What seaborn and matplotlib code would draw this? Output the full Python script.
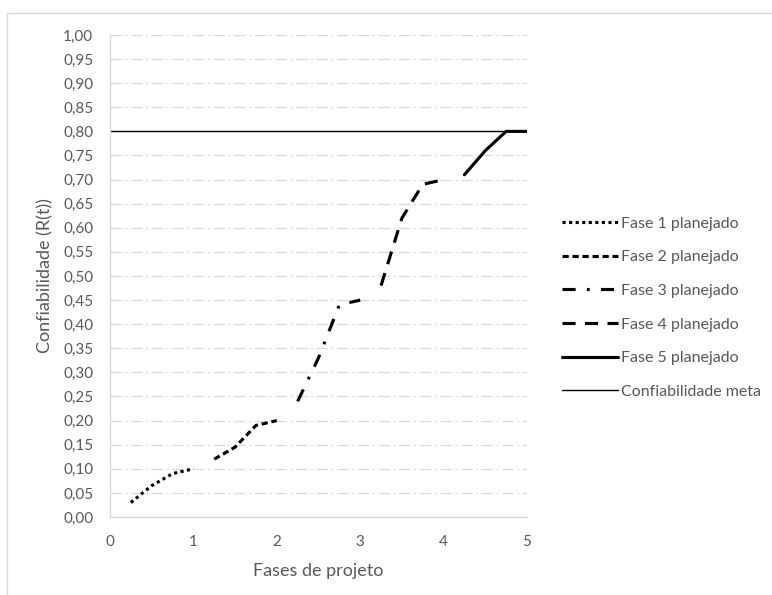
import pandas as pd
import seaborn as sns
import matplotlib
import matplotlib.pyplot as plt
from matplotlib.patches import Rectangle
from matplotlib.lines import Line2D
from matplotlib.ticker import FuncFormatter, MultipleLocator

matplotlib.use("Agg")

# valores
fase1_x = [0.25, 0.5, 0.75, 1.0]
fase1_y = [0.03, 0.065, 0.09, 0.10]
fase2_x = [1.25, 1.5, 1.75, 2.0]
fase2_y = [0.12, 0.145, 0.19, 0.20]
fase3_x = [2.25, 2.5, 2.75, 3.0]
fase3_y = [0.24, 0.33, 0.44, 0.45]
fase4_x = [3.25, 3.5, 3.75, 4.0]
fase4_y = [0.48, 0.62, 0.69, 0.70]
fase5_x = [4.25, 4.5, 4.75, 5.0]
fase5_y = [0.71, 0.76, 0.80, 0.80]
meta_x = [0, 5]
meta_y = [0.80, 0.80]

nomes = ["Fase 1 planejado", "Fase 2 planejado", "Fase 3 planejado",
         "Fase 4 planejado", "Fase 5 planejado"]

df = pd.concat([
    pd.DataFrame({"x": fase1_x, "y": fase1_y, "serie": nomes[0]}),
    pd.DataFrame({"x": fase2_x, "y": fase2_y, "serie": nomes[1]}),
    pd.DataFrame({"x": fase3_x, "y": fase3_y, "serie": nomes[2]}),
    pd.DataFrame({"x": fase4_x, "y": fase4_y, "serie": nomes[3]}),
    pd.DataFrame({"x": fase5_x, "y": fase5_y, "serie": nomes[4]}),
])

sns.set_style("white")
plt.rcParams['font.family'] = ['Lato', 'DejaVu Sans']

fig = plt.figure(figsize=(7.72, 5.95), dpi=100)
ax = fig.add_axes([0.1425, 0.1311, 0.5401, 0.8101])

estilos = {
    nomes[0]: (1, 1.1),
    nomes[1]: (2.0, 1.2),
    nomes[2]: (4.2, 3.6, 0.9, 3.6),
    nomes[3]: (4.2, 3.0),
    nomes[4]: "",
}

sns.lineplot(data=df, x="x", y="y", hue="serie", style="serie",
             palette=["black"] * 5, dashes=estilos, linewidth=2.25,
             sort=False, ax=ax, legend=False)
for ln in ax.get_lines():
    ln.set_dash_capstyle("butt")

sns.lineplot(x=meta_x, y=meta_y, color="black", linewidth=1, ax=ax)

ax.set_xlim(0, 5)
ax.set_ylim(0, 1.0)
ax.yaxis.set_major_locator(MultipleLocator(0.05))
ax.xaxis.set_major_locator(MultipleLocator(1))
ax.yaxis.set_major_formatter(FuncFormatter(lambda v, p: f"{v:.2f}".replace(".", ",")))
ax.xaxis.set_major_formatter(FuncFormatter(lambda v, p: f"{v:.0f}"))

ax.grid(axis="y", color="#d9d9d9", linewidth=0.9, dashes=(9, 3, 1.5, 3))
ax.set_axisbelow(True)
for s in ["top", "right"]:
    ax.spines[s].set_visible(False)
for s in ["left", "bottom"]:
    ax.spines[s].set_color("#d9d9d9")
    ax.spines[s].set_linewidth(1)

ax.tick_params(axis="both", length=0, labelsize=11, labelcolor="#595959")
ax.tick_params(axis="y", pad=12)
ax.tick_params(axis="x", pad=13)
ax.set_xlabel("Fases de projeto", fontsize=13, color="#595959", labelpad=10)
ax.set_ylabel("Confiabilidade (R(t))", fontsize=13, color="#595959", labelpad=7)

# legenda
handles = [Line2D([], [], color="black", linewidth=2.25, dashes=estilos[n],
                  dash_capstyle="butt") for n in nomes[:4]]
handles.append(Line2D([], [], color="black", linewidth=2.25))
handles.append(Line2D([], [], color="black", linewidth=1))
leg = fig.legend(handles, nomes + ["Confiabilidade meta"], loc="center left",
                 bbox_to_anchor=(0.728, 0.483), frameon=False, fontsize=11.5,
                 handlelength=3.5, handletextpad=0.2, labelspacing=1.22,
                 borderpad=0, borderaxespad=0)
for t in leg.get_texts():
    t.set_color("#595959")

# borda externa
fig.patches.append(Rectangle((7 / 772, -0.1), 1.2, 0.978 + 0.1, transform=fig.transFigure,
                             fill=False, edgecolor="#d9d9d9", linewidth=1))

fig.savefig("out.png", dpi=100)
